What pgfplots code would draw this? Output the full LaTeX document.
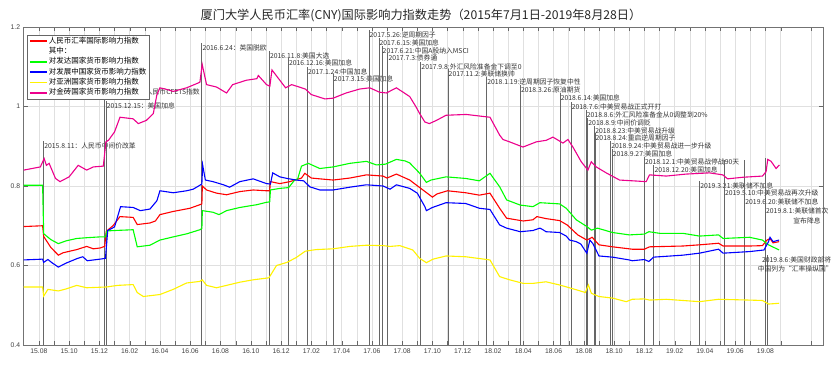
\documentclass[border=0pt]{standalone}
\usepackage{pgfplots}
\pgfplotsset{compat=1.18}
\usepackage{fontspec}
\setmainfont{Liberation Sans}
\newfontfamily\cjk{Noto Sans CJK SC}
\tikzset{
  evline/.style={black!60, line width=0.9pt},
  evtxt/.style={anchor=west, inner sep=0.5pt, font=\cjk\fontsize{6.8}{7.5}\selectfont, text=black!80},
}
\newcommand\ev[4]{\draw[evline] (axis cs:#1,0.4) -- (axis cs:#1,#2); \node[evtxt] at (axis cs:#1,#3) {#4};}
\begin{document}
\begin{tikzpicture}[x=1pt,y=1pt]
\begin{axis}[
  at={(0,0)}, anchor=south west,
  scale only axis, width=799.3pt, height=318pt,
  xmin=0, xmax=52.8, ymin=0.4, ymax=1.2,
  xtick={1,3,...,49},
  xticklabels={15.08,15.10,15.12,16.02,16.04,16.06,16.08,16.10,16.12,17.02,17.04,17.06,17.08,17.10,17.12,18.02,18.04,18.06,18.08,18.10,18.12,19.02,19.04,19.06,19.08},
  minor xtick={2,4,...,52},
  ytick={0.4,0.6,0.8,1,1.2},
  grid=both, major grid style={black!12}, minor grid style={black!12},
  tick align=inside, major tick length=4pt, minor tick length=4pt,
  tick style={black!60},
  axis line style={black!55},
  ticklabel style={font=\fontsize{6.8}{8}\selectfont, text=black!75},
  /pgf/number format/assume math mode=true,
  clip=false,
  no markers,
  legend cell align=left,
  legend image code/.code={\draw[#1, line width=1.6pt] (0pt,0pt) -- (17pt,0pt);},
  legend style={at={(0.0041,0.975)}, anchor=north west, draw=black!60,
    font=\cjk\fontsize{7.5}{8}\selectfont, inner xsep=2pt, inner ysep=1.5pt,
    row sep=1.2pt, nodes={inner sep=1pt, text height=5.6pt, text depth=1.5pt}},
]
% event lines and labels
\ev{1.32}{0.913}{0.901}{2015.8.11：人民币中间价改革}
\ev{5.33}{1.048}{1.036}{2015.12.11：人民币CFETS指数}
\ev{5.45}{1.013}{1.001}{2015.12.15：美国加息}
\ev{11.77}{1.159}{1.147}{2016.6.24：英国脱欧}
\ev{16.23}{1.139}{1.127}{2016.11.8:美国大选}
\ev{17.48}{1.121}{1.109}{2016.12.16:美国加息}
\ev{18.74}{1.099}{1.087}{2017.1.24:中国加息}
\ev{20.45}{1.081}{1.069}{2017.3.15:美国加息}
\ev{22.81}{1.192}{1.180}{2017.5.26:逆周期因子}
\ev{23.47}{1.172}{1.160}{2017.6.15:美国加息}
\ev{23.67}{1.152}{1.140}{2017.6.21:中国A股纳入MSCI}
\ev{24.06}{1.134}{1.122}{2017.7.3:债券通}
\ev{26.23}{1.111}{1.099}{2017.9.8:外汇风险准备金下调至0}
\ev{28.03}{1.094}{1.082}{2017.11.2:美联储换帅}
\ev{30.58}{1.074}{1.062}{2018.1.19:逆周期因子恢复中性}
\ev{32.81}{1.054}{1.042}{2018.3.26:原油期货}
\ev{35.43}{1.033}{1.021}{2018.6.14:美国加息}
\ev{36.16}{1.011}{0.999}{2018.7.6:中美贸易战正式开打}
\ev{37.16}{0.991}{0.979}{2018.8.6:外汇风险准备金从0调整到20\%}
\ev{37.26}{0.970}{0.958}{2018.8.9:中间价调贬}
\ev{37.71}{0.950}{0.938}{2018.8.23:中美贸易战升级}
\ev{37.74}{0.933}{0.921}{2018.8.24:重启逆周期因子}
\ev{38.77}{0.913}{0.901}{2018.9.24:中美贸易战进一步升级}
\ev{38.87}{0.893}{0.881}{2018.9.27:美国加息}
\ev{41.00}{0.872}{0.860}{2018.12.1:中美贸易战停战90天}
\ev{41.63}{0.852}{0.840}{2018.12.20:美国加息}
\ev{44.65}{0.812}{0.800}{2019.3.21:美联储不加息}
\ev{46.29}{0.865}{0.782}{2019.5.10:中美贸易战再次升级}
\ev{47.63}{0.865}{0.760}{2019.6.20:美联储不加息}
\ev{49.00}{0.870}{0.737}{2019.8.1:美联储首次}
\node[evtxt, anchor=east] at (axis cs:52.69,0.712) {宣布降息};
\draw[evline] (axis cs:49.16,0.4) -- (axis cs:49.16,0.626);
\node[evtxt] at (axis cs:48.73,0.614) {2019.8.6:美国财政部将};
\node[evtxt] at (axis cs:48.45,0.591) {中国列为“汇率操纵国”};

% red: overall index
\addplot[draw=red, line width=1.1pt] coordinates {
(0,0.698)(1.25,0.700)(1.32,0.673)(1.8,0.645)(2.29,0.626)(2.6,0.632)(3.5,0.640)(4.16,0.648)(4.6,0.642)(5.04,0.644)(5.35,0.648)(5.45,0.686)(5.9,0.700)(6.36,0.723)(7.23,0.721)(7.5,0.703)(8.34,0.707)(8.7,0.712)(9.0,0.728)(9.88,0.736)(10.98,0.744)(11.64,0.753)(11.77,0.755)(11.8,0.800)(12.08,0.790)(12.74,0.782)(13.4,0.778)(14.28,0.786)(15.16,0.790)(16.04,0.788)(16.25,0.788)(16.3,0.811)(16.92,0.806)(17.58,0.811)(18.35,0.820)(18.57,0.832)(19.0,0.820)(19.56,0.818)(20.44,0.815)(21.54,0.820)(22.64,0.828)(23.74,0.825)(24.0,0.820)(24.62,0.830)(25.5,0.815)(26.16,0.796)(27.0,0.772)(27.3,0.780)(28.0,0.788)(29.2,0.783)(30.1,0.777)(30.8,0.782)(31.44,0.744)(31.9,0.719)(33.0,0.712)(33.64,0.715)(33.9,0.723)(34.5,0.718)(35.4,0.713)(35.9,0.702)(36.6,0.677)(37.2,0.664)(37.55,0.671)(38.0,0.652)(38.9,0.647)(40.2,0.641)(41.0,0.641)(41.34,0.647)(43.54,0.649)(44.64,0.652)(45.9,0.656)(46.2,0.649)(47.94,0.649)(48.8,0.650)(49.1,0.664)(49.3,0.668)(49.5,0.657)(49.9,0.660)
};
\addlegendentry{人民币汇率国际影响力指数}
\addlegendimage{draw=white}
\addlegendentry{其中：}
% green: developed
\addplot[draw=green, line width=1.1pt] coordinates {
(0,0.802)(1.25,0.802)(1.32,0.680)(1.8,0.665)(2.29,0.655)(2.8,0.662)(3.5,0.668)(4.2,0.670)(5.04,0.672)(5.4,0.672)(5.5,0.687)(6.0,0.688)(7.23,0.690)(7.5,0.647)(8.34,0.651)(9.0,0.664)(9.88,0.672)(10.8,0.680)(11.64,0.690)(11.77,0.693)(11.8,0.738)(12.5,0.734)(12.9,0.728)(13.4,0.738)(14.28,0.746)(15.4,0.753)(16.04,0.759)(16.25,0.760)(16.3,0.790)(16.92,0.794)(17.5,0.796)(17.9,0.815)(18.1,0.818)(18.35,0.850)(18.8,0.857)(19.56,0.844)(20.44,0.848)(21.54,0.857)(22.64,0.862)(23.3,0.853)(23.9,0.855)(24.62,0.867)(25.2,0.863)(25.5,0.858)(26.16,0.832)(26.6,0.809)(26.9,0.815)(27.9,0.823)(29.2,0.819)(30.1,0.813)(30.8,0.832)(31.44,0.798)(31.9,0.765)(32.8,0.752)(33.64,0.748)(34.1,0.758)(35.4,0.755)(35.84,0.744)(36.5,0.715)(37.2,0.698)(37.5,0.689)(37.9,0.694)(38.9,0.683)(40.0,0.677)(41.0,0.679)(41.3,0.685)(42.0,0.681)(43.54,0.681)(44.64,0.674)(45.9,0.677)(46.2,0.668)(47.94,0.671)(48.8,0.664)(49.2,0.652)(49.9,0.639)
};
\addlegendentry{对发达国家货币影响力指数}
% blue: developing
\addplot[draw=blue, line width=1.1pt] coordinates {
(0,0.614)(1.25,0.616)(1.32,0.608)(1.6,0.615)(1.9,0.606)(2.29,0.596)(2.8,0.606)(3.5,0.617)(3.9,0.622)(4.2,0.612)(5.04,0.616)(5.4,0.618)(5.55,0.688)(6.0,0.697)(6.4,0.748)(7.23,0.746)(7.7,0.738)(8.34,0.742)(8.8,0.763)(9.0,0.788)(9.88,0.783)(10.76,0.788)(11.2,0.792)(11.64,0.802)(11.77,0.805)(11.82,0.853)(12.0,0.815)(12.5,0.811)(13.2,0.803)(13.6,0.797)(14.28,0.811)(15.16,0.818)(16.04,0.806)(16.3,0.805)(16.45,0.833)(16.92,0.823)(17.4,0.819)(18.0,0.815)(18.5,0.813)(18.9,0.798)(19.56,0.790)(20.44,0.790)(21.54,0.797)(22.64,0.803)(23.74,0.800)(24.2,0.792)(24.62,0.803)(25.5,0.794)(26.0,0.782)(26.5,0.748)(26.6,0.738)(27.0,0.746)(27.9,0.758)(29.2,0.756)(30.1,0.744)(30.8,0.741)(31.44,0.702)(31.9,0.694)(32.8,0.685)(33.64,0.688)(34.1,0.694)(34.3,0.690)(34.5,0.685)(35.4,0.683)(35.84,0.674)(36.06,0.664)(36.5,0.660)(36.8,0.654)(37.2,0.631)(37.4,0.664)(37.6,0.655)(38.0,0.624)(38.9,0.621)(40.0,0.614)(40.2,0.612)(41.0,0.615)(41.3,0.610)(41.6,0.621)(43.54,0.626)(44.64,0.631)(45.9,0.641)(46.2,0.631)(47.94,0.635)(48.9,0.639)(49.2,0.660)(49.3,0.671)(49.5,0.660)(49.9,0.664)
};
\addlegendentry{对发展中国家货币影响力指数}
% yellow: Asia
\addplot[draw=yellow, line width=1.1pt] coordinates {
(0,0.546)(1.25,0.546)(1.32,0.523)(1.6,0.540)(2.29,0.536)(2.8,0.541)(3.5,0.550)(4.16,0.544)(5.48,0.546)(6.2,0.550)(7.23,0.552)(7.5,0.532)(7.9,0.522)(9.0,0.527)(9.88,0.540)(10.76,0.556)(11.64,0.560)(11.79,0.564)(12.08,0.550)(12.74,0.544)(13.4,0.550)(14.28,0.558)(15.16,0.564)(16.2,0.569)(16.7,0.600)(17.4,0.608)(18.0,0.620)(18.6,0.636)(19.3,0.640)(20.44,0.642)(21.54,0.648)(22.64,0.651)(23.74,0.650)(24.2,0.648)(24.84,0.650)(25.7,0.639)(26.16,0.618)(26.6,0.607)(27.04,0.616)(27.9,0.624)(29.2,0.622)(30.8,0.614)(31.44,0.572)(32.1,0.564)(33.0,0.555)(33.64,0.555)(34.5,0.559)(35.4,0.551)(36.5,0.539)(37.1,0.532)(37.3,0.551)(37.5,0.530)(38.0,0.522)(38.9,0.518)(39.8,0.509)(40.2,0.515)(41.0,0.516)(41.34,0.513)(42.44,0.515)(43.54,0.512)(44.64,0.509)(45.9,0.515)(47.94,0.513)(48.8,0.512)(49.2,0.503)(49.9,0.505)
};
\addlegendentry{对亚洲国家货币影响力指数}
% magenta: BRICS
\addplot[draw=magenta, line width=1.1pt] coordinates {
(0,0.840)(1.1,0.848)(1.35,0.869)(1.5,0.852)(1.68,0.857)(2.1,0.819)(2.4,0.811)(3.0,0.823)(3.6,0.852)(4.16,0.840)(4.6,0.848)(5.26,0.850)(5.43,0.911)(5.6,0.915)(6.0,0.936)(6.36,0.973)(7.23,0.969)(7.57,0.957)(8.1,0.965)(8.56,0.982)(8.8,1.030)(9.0,1.047)(9.44,1.043)(9.88,1.038)(10.76,1.047)(11.64,1.061)(11.79,1.106)(12.08,1.055)(12.74,1.049)(13.4,1.034)(13.8,1.055)(14.7,1.066)(15.4,1.070)(15.5,1.078)(16.04,1.055)(16.26,1.051)(16.4,1.092)(16.8,1.072)(17.3,1.047)(17.7,1.055)(18.2,1.049)(18.6,1.044)(19.0,1.030)(19.9,1.019)(20.44,1.021)(21.3,1.034)(22.2,1.044)(22.86,1.047)(23.5,1.036)(23.96,1.034)(24.62,1.047)(25.5,1.025)(25.9,1.000)(26.16,0.982)(26.5,0.961)(26.8,0.957)(27.26,0.965)(27.9,0.978)(29.24,0.980)(30.34,0.975)(30.8,0.973)(31.44,0.928)(31.66,0.917)(32.1,0.911)(32.98,0.898)(33.86,0.911)(34.52,0.915)(34.96,0.923)(35.62,0.908)(35.95,0.917)(36.28,0.898)(36.83,0.861)(37.27,0.840)(37.49,0.861)(37.82,0.848)(38.48,0.833)(39.36,0.815)(40.24,0.813)(41.12,0.811)(41.34,0.828)(42.44,0.825)(43.76,0.830)(45.3,0.833)(46.18,0.828)(46.5,0.818)(47.5,0.822)(48.8,0.825)(49.04,0.836)(49.15,0.867)(49.37,0.862)(49.7,0.844)(49.92,0.853)
};
\addlegendentry{对金砖国家货币影响力指数}
\end{axis}
\node[font=\cjk\fontsize{12.2}{14}\selectfont, text=black!85] at (397.3,330) {厦门大学人民币汇率(CNY)国际影响力指数走势（2015年7月1日-2019年8月28日）};
\pgfresetboundingbox
\path (-23.7,-19) rectangle (808.3,345);
\end{tikzpicture}
\end{document}
